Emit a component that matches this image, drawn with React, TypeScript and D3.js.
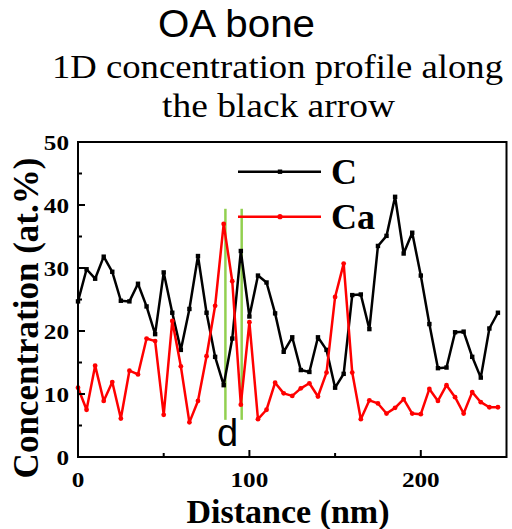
import React from "react";
import * as d3 from "d3";

const distance: number[] = Array.from({ length: 50 }, (_, i) => i * 5);
const carbon: number[] = [
  24.7, 29.8, 28.3, 31.8, 29.4, 24.8, 24.7, 27.5, 23.9, 19.5,
  29.3, 22.9, 17.0, 23.5, 31.9, 22.9, 15.9, 11.4, 18.8, 32.7,
  22.3, 28.8, 27.7, 22.8, 16.7, 19.0, 13.8, 13.5, 19.0, 17.0,
  11.0, 13.2, 25.7, 25.8, 20.3, 33.5, 35.1, 41.3, 32.3, 35.6,
  28.8, 21.1, 14.1, 14.2, 19.8, 19.9, 15.9, 12.6, 20.4, 22.9,
];
const calcium: number[] = [
  11.0, 7.5, 14.5, 8.9, 11.9, 6.1, 13.7, 13.1, 18.8, 18.4,
  6.7, 21.6, 14.4, 5.5, 8.9, 16.0, 24.0, 37.0, 27.9, 8.3,
  21.4, 6.0, 7.5, 11.8, 10.1, 9.7, 10.9, 11.7, 9.6, 13.4,
  25.4, 30.7, 13.4, 6.0, 9.0, 8.5, 6.9, 7.8, 9.2, 6.9,
  6.8, 10.8, 8.9, 11.4, 9.5, 6.9, 10.3, 8.7, 7.9, 7.9,
];
const seriesNames: string[] = ["C", "Ca"];
const xTicks: number[] = [0, 100, 200];
const xMinorTicks: number[] = [50, 150];
const yTicks: number[] = [0, 10, 20, 30, 40, 50];
const yMinorTicks: number[] = [5, 15, 25, 35, 45];
const markerX: number[] = [86, 95.5];
const markerRange: number[] = [5.9, 39.4];
const titleLines: string[] = ["OA bone", "1D concentration profile along", "the black arrow"];

export default function App() {
  const x = d3.scaleLinear().domain([0, 250]).range([78, 506.5]);
  const y = d3.scaleLinear().domain([0, 50]).range([457, 142]);
  const line = d3
    .line<number>()
    .x((_, i) => x(distance[i]))
    .y((d) => y(d));
  const serif = "'Liberation Serif', 'Times New Roman', serif";
  const sans = "'Liberation Sans', Arial, sans-serif";
  const digitW = 12.6;

  return (
    <svg
      width={512}
      height={529}
      style={{ position: "absolute", left: 0, top: 0, background: "#fff" }}
    >
      <rect x={0} y={0} width={512} height={529} fill="#fff" />
      {/* titles */}
      <text x={158} y={37} fontFamily={sans} fontSize={38} fill="#000" textLength={157} lengthAdjust="spacingAndGlyphs">
        {titleLines[0]}
      </text>
      <text x={52} y={78} fontFamily={serif} fontSize={33} fill="#000" textLength={451} lengthAdjust="spacingAndGlyphs">
        {titleLines[1]}
      </text>
      <text x={162} y={117} fontFamily={serif} fontSize={33} fill="#000" textLength={233} lengthAdjust="spacingAndGlyphs">
        {titleLines[2]}
      </text>

      {/* green marker lines */}
      {markerX.map((mx, i) => (
        <line
          key={"g" + i}
          x1={x(mx)}
          x2={x(mx)}
          y1={y(markerRange[0])}
          y2={y(markerRange[1])}
          stroke="#92d050"
          strokeWidth={2.5}
        />
      ))}

      {/* data lines */}
      <path d={line(carbon) || ""} fill="none" stroke="#000" strokeWidth={2.5} strokeLinejoin="round" />
      {carbon.map((v, i) => (
        <rect key={"c" + i} x={x(distance[i]) - 2.2} y={y(v) - 2.2} width={4.4} height={4.4} fill="#000" />
      ))}
      <path d={line(calcium) || ""} fill="none" stroke="#ff0000" strokeWidth={2.5} strokeLinejoin="round" />
      {calcium.map((v, i) => (
        <circle key={"ca" + i} cx={x(distance[i])} cy={y(v)} r={2.4} fill="#ff0000" />
      ))}

      {/* legend */}
      <line x1={238} x2={321} y1={171.7} y2={171.7} stroke="#000" strokeWidth={2.5} />
      <rect x={280 - 2.2} y={171.7 - 2.2} width={4.4} height={4.4} fill="#000" />
      <text x={331} y={184} fontFamily={serif} fontWeight="bold" fontSize={36} fill="#000">
        {seriesNames[0]}
      </text>
      <line x1={238} x2={321} y1={216.7} y2={216.7} stroke="#ff0000" strokeWidth={2.5} />
      <circle cx={280} cy={216.7} r={2.6} fill="#ff0000" />
      <text x={331} y={229} fontFamily={serif} fontWeight="bold" fontSize={36} fill="#000">
        {seriesNames[1]}
      </text>

      {/* d label */}
      <text x={217} y={445.5} fontFamily={sans} fontSize={38} fill="#000">
        d
      </text>

      {/* frame */}
      <rect x={78} y={142} width={506.5 - 78} height={457 - 142} fill="none" stroke="#000" strokeWidth={2} />

      {/* x ticks */}
      {xTicks.map((t) => (
        <g key={"xt" + t}>
          {t > 0 && <line x1={x(t)} x2={x(t)} y1={457} y2={450} stroke="#000" strokeWidth={2} />}
          <text
            x={x(t) - (String(t).length * digitW) / 2}
            y={487}
            fontFamily={serif}
            fontWeight="bold"
            fontSize={22}
            fill="#000"
            textLength={String(t).length * digitW}
            lengthAdjust="spacingAndGlyphs"
          >
            {t}
          </text>
        </g>
      ))}
      {xMinorTicks.map((t) => (
        <line key={"xm" + t} x1={x(t)} x2={x(t)} y1={457} y2={453} stroke="#000" strokeWidth={2} />
      ))}

      {/* y ticks */}
      {yTicks.map((t) => (
        <g key={"yt" + t}>
          {t > 0 && t < 50 && <line x1={78} x2={85} y1={y(t)} y2={y(t)} stroke="#000" strokeWidth={2} />}
          <text
            x={69 - String(t).length * digitW}
            y={y(t) + 8}
            fontFamily={serif}
            fontWeight="bold"
            fontSize={22}
            fill="#000"
            textLength={String(t).length * digitW}
            lengthAdjust="spacingAndGlyphs"
          >
            {t}
          </text>
        </g>
      ))}
      {yMinorTicks.map((t) => (
        <line key={"ym" + t} x1={78} x2={82} y1={y(t)} y2={y(t)} stroke="#000" strokeWidth={2} />
      ))}

      {/* axis titles */}
      <text x={288} y={523} fontFamily={serif} fontWeight="bold" fontSize={34} textAnchor="middle" fill="#000">
        Distance (nm)
      </text>
      <text
        transform="translate(38,318) rotate(-90)"
        fontFamily={serif}
        fontWeight="bold"
        fontSize={35}
        textAnchor="middle"
        fill="#000"
      >
        Concentration (at.%)
      </text>
    </svg>
  );
}
